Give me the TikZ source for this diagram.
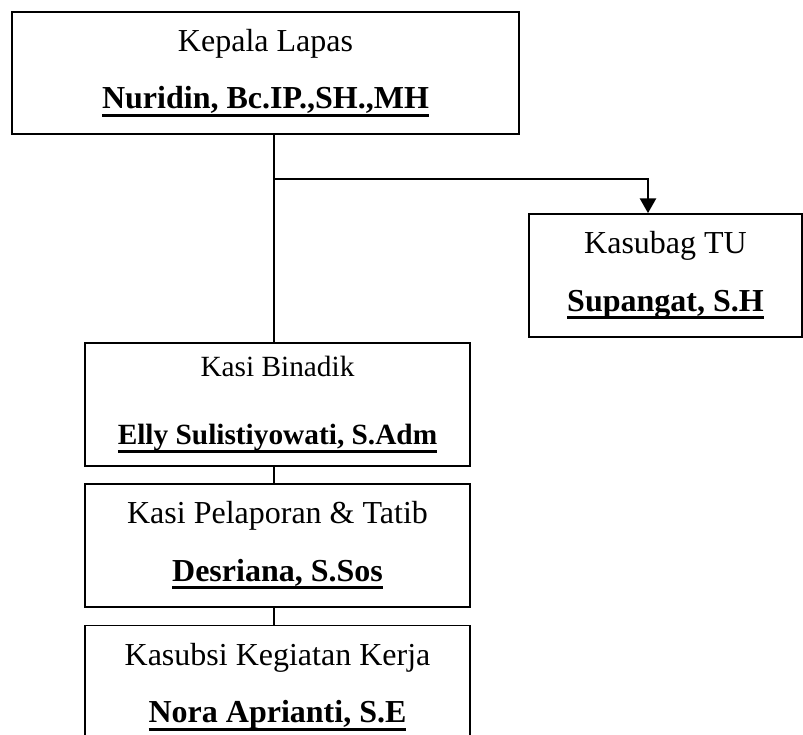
\documentclass[tikz,border=0pt]{standalone}
\usepackage{fontspec}
\setmainfont{Liberation Serif}
\usetikzlibrary{arrows.meta, positioning}

\newcommand{\nama}[1]{\setbox0\hbox{\textbf{#1}}\leavevmode\rlap{\rule[-6pt]{\wd0}{2.2pt}}\box0}

\begin{document}
\begin{tikzpicture}[
  x=0.75pt, y=-0.75pt,
  box/.style={rectangle, draw=black, line width=1.3pt, inner sep=0pt,
              minimum width=288.75pt, minimum height=92.25pt,
              align=center, font=\fontsize{24}{43}\selectfont},
  garis/.style={line width=1.6pt},
  arrow/.style={-{Triangle[length=11pt, width=12pt]}, line width=1.6pt}
]
\useasboundingbox (0,0) rectangle (803,735);
\clip (0,0) rectangle (803,735);

\node[box, minimum width=380.25pt, minimum height=91.5pt] (kalapas) at (265.5,73)
  {Kepala Lapas\\\nama{Nuridin, Bc.IP.,SH.,MH}};
\node[box, minimum width=204.75pt] (kasubag) at (665.5,275.5)
  {Kasubag TU\\\nama{Supangat, S.H}};
\node[box, font=\fontsize{22}{51}\selectfont] (binadik) at (277.5,404.5)
  {Kasi Binadik\\\nama{Elly Sulistiyowati, S.Adm}};
\node[box, below=12pt of binadik] (tatib)
  {Kasi Pelaporan \& Tatib\\\nama{Desriana, S.Sos}};
\node[box, below=12.75pt of tatib] (kerja)
  {Kasubsi Kegiatan Kerja\\\nama{Nora Aprianti, S.E}};

\coordinate (cabang) at (274,179);
\coordinate (belok) at (648,179);

\draw[garis] (cabang |- kalapas.south) -- (cabang |- binadik.north);
\draw[arrow] (cabang) -- (belok) -- (belok |- kasubag.north);
\draw[garis] (cabang |- binadik.south) -- (cabang |- tatib.north);
\draw[garis] (cabang |- tatib.south) -- (cabang |- kerja.north);
\end{tikzpicture}
\end{document}
